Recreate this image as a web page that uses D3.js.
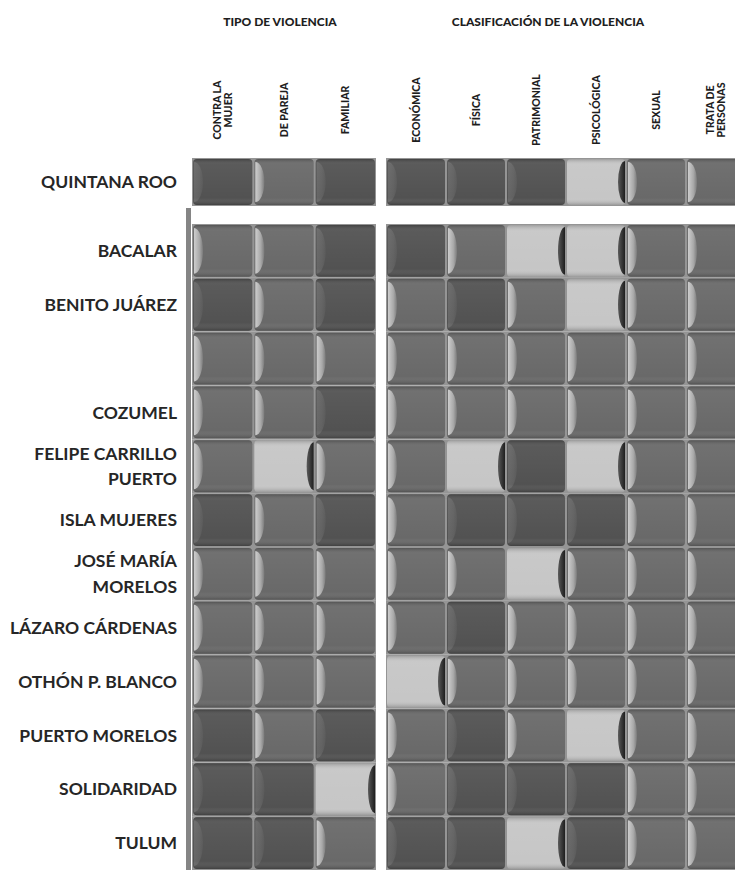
<!DOCTYPE html>
<html>
<head>
<meta charset="utf-8">
<script src="https://cdn.jsdelivr.net/npm/d3@7"></script>
<style>
  body { margin: 0; background: #fff; }
  svg { display: block; }
  text { font-family: Lato, "Open Sans", sans-serif; font-weight: 700; fill: #262626; }
  .hdr { font-weight: 900; fill: #1e1e1e; }
</style>
</head>
<body>
<svg id="chart" width="735" height="870"></svg>
<script>
// column labels, grouped
const tipoCols = ['CONTRA LA\nMUJER', 'DE PAREJA', 'FAMILIAR'];
const clasifCols = ['ECONÓMICA', 'FÍSICA', 'PATRIMONIAL', 'PSICOLÓGICA', 'SEXUAL', 'TRATA DE\nPERSONAS'];
const grupos = ['TIPO DE VIOLENCIA', 'CLASIFICACIÓN DE LA VIOLENCIA'];

// state row + municipal rows (third row has no label in the source)
const estado = 'QUINTANA ROO';
const municipios = ['BACALAR', 'BENITO JUÁREZ', '', 'COZUMEL', 'FELIPE CARRILLO\nPUERTO', 'ISLA MUJERES',
  'JOSÉ MARÍA\nMORELOS', 'LÁZARO CÁRDENAS', 'OTHÓN P. BLANCO', 'PUERTO MORELOS', 'SOLIDARIDAD', 'TULUM'];

// level per cell: 1 = light, 2 = medium, 3 = dark (order: tipoCols then clasifCols)
const nivelEstado = [3, 2, 3, 3, 3, 3, 1, 2, 2];
const nivelMunicipios = [
  [2, 2, 3, 3, 2, 1, 1, 2, 2],
  [3, 2, 3, 2, 3, 2, 1, 2, 2],
  [2, 2, 2, 2, 2, 2, 2, 2, 2],
  [2, 2, 3, 2, 2, 2, 2, 2, 2],
  [2, 1, 2, 2, 1, 3, 1, 2, 2],
  [3, 2, 3, 2, 3, 3, 3, 2, 2],
  [2, 2, 2, 2, 2, 1, 2, 2, 2],
  [2, 2, 2, 2, 3, 2, 2, 2, 2],
  [2, 2, 2, 1, 2, 2, 2, 2, 2],
  [3, 2, 3, 2, 3, 2, 1, 2, 2],
  [3, 3, 1, 2, 3, 3, 3, 2, 2],
  [3, 3, 2, 3, 3, 1, 3, 2, 2]
];

const svg = d3.select('#chart');
const color = d3.scaleOrdinal().domain([1, 2, 3]).range(['#c6c6c6', '#696969', '#525252']);

// x: two band scales, one per group
const xTipo = d3.scaleBand().domain(tipoCols).range([192, 376]).padding(0);
const xClasif = d3.scaleBand().domain(clasifCols).range([386, 746]).padding(0);
const cols = tipoCols.map(c => ({ name: c, x: xTipo(c), w: xTipo.bandwidth() }))
  .concat(clasifCols.map(c => ({ name: c, x: xClasif(c), w: xClasif.bandwidth() })));

// y: state row on its own, municipios below
const yEstado = d3.scaleBand().domain([estado]).range([158, 206]);
const yMun = d3.scaleBand().domain(d3.range(municipios.length)).range([224, 870]);

const defs = svg.append('defs');
const hl = defs.append('linearGradient').attr('id', 'hl');
hl.append('stop').attr('offset', 0).attr('stop-color', '#dedede');
hl.append('stop').attr('offset', 0.6).attr('stop-color', '#b4b4b4');
hl.append('stop').attr('offset', 1).attr('stop-color', '#7e7e7e');
const sh = defs.append('linearGradient').attr('id', 'sh');
sh.append('stop').attr('offset', 0).attr('stop-color', '#5a5a5a');
sh.append('stop').attr('offset', 1).attr('stop-color', '#1e1e1e');
const bev = defs.append('linearGradient').attr('id', 'bev').attr('x1', 0).attr('x2', 0).attr('y1', 0).attr('y2', 1);
bev.append('stop').attr('offset', 0).attr('stop-color', '#000').attr('stop-opacity', 0.2);
bev.append('stop').attr('offset', 0.12).attr('stop-color', '#fff').attr('stop-opacity', 0.05);
bev.append('stop').attr('offset', 0.85).attr('stop-color', '#fff').attr('stop-opacity', 0);
bev.append('stop').attr('offset', 1).attr('stop-color', '#000').attr('stop-opacity', 0.22);

function drawRow(g, values, y, h) {
  // separator background
  [[0, 3], [3, 9]].forEach(([a, b]) => {
    g.append('rect')
      .attr('x', cols[a].x).attr('y', y)
      .attr('width', cols[b - 1].x + cols[b - 1].w - cols[a].x).attr('height', h)
      .attr('fill', '#959595');
  });
  const cells = g.selectAll('g.cell').data(values.map((v, i) => ({ v, c: cols[i] })))
    .enter().append('g').attr('class', 'cell');
  cells.append('rect')
    .attr('x', d => d.c.x + 1).attr('y', y + 1)
    .attr('width', d => d.c.w - 2).attr('height', h - 2)
    .attr('rx', 4)
    .attr('fill', d => color(d.v));
  cells.append('rect')
    .attr('x', d => d.c.x + 1).attr('y', y + 1)
    .attr('width', d => d.c.w - 2).attr('height', h - 2)
    .attr('rx', 4)
    .attr('fill', 'url(#bev)');
  // left highlight crescent (medium + faint on dark)
  cells.filter(d => d.v !== 1).append('path')
    .attr('d', d => {
      const x0 = d.c.x + 2, y0 = y + 4, y1 = y + h - 4;
      return `M${x0},${y0} A9,${(y1 - y0) / 2} 0 0 1 ${x0},${y1} Z`;
    })
    .attr('fill', 'url(#hl)')
    .attr('opacity', d => d.v === 2 ? 0.85 : 0.15);
  // right shadow crescent on light cells
  cells.filter(d => d.v === 1).append('path')
    .attr('d', d => {
      const x1 = d.c.x + d.c.w - 1, y0 = y + 3, y1 = y + h - 3;
      return `M${x1},${y0} A7,${(y1 - y0) / 2} 0 0 0 ${x1},${y1} Z`;
    })
    .attr('fill', 'url(#sh)');
}

drawRow(svg.append('g'), nivelEstado, yEstado(estado), yEstado.bandwidth());
const gMun = svg.append('g');
nivelMunicipios.forEach((row, i) => drawRow(gMun.append('g'), row, yMun(i), yMun.bandwidth()));

// left border strip of the municipal block
svg.append('rect').attr('x', 186).attr('y', 208).attr('width', 5).attr('height', 662).attr('fill', '#858585');

// row labels
function rowLabel(name, yc) {
  const lines = name.split('\n');
  const t = svg.append('text')
    .attr('x', 177).attr('y', yc)
    .attr('text-anchor', 'end')
    .style('font-size', '17.5px');
  lines.forEach((l, i) => {
    t.append('tspan').attr('x', 177)
      .attr('dy', i === 0 ? `${0.35 - (lines.length - 1) * 0.72}em` : '1.44em')
      .text(l);
  });
}
rowLabel(estado, yEstado(estado) + yEstado.bandwidth() / 2);
municipios.forEach((m, i) => rowLabel(m, yMun(i) + yMun.bandwidth() / 2));

// column labels (rotated)
cols.forEach(c => {
  const lines = c.name.split('\n');
  const t = svg.append('text')
    .attr('class', 'hdr')
    .attr('transform', `translate(${c.x + c.w / 2},110) rotate(-90)`)
    .attr('text-anchor', 'middle')
    .style('font-size', '10.5px');
  lines.forEach((l, i) => {
    t.append('tspan').attr('x', 0)
      .attr('dy', i === 0 ? `${0.35 - (lines.length - 1) * 0.5}em` : '1em')
      .text(l);
  });
});

// group titles
svg.append('text').attr('class', 'hdr').attr('x', 280).attr('y', 26)
  .attr('text-anchor', 'middle').style('font-size', '12px').text(grupos[0]);
svg.append('text').attr('class', 'hdr').attr('x', 548).attr('y', 26)
  .attr('text-anchor', 'middle').style('font-size', '12px').text(grupos[1]);
</script>
</body>
</html>
